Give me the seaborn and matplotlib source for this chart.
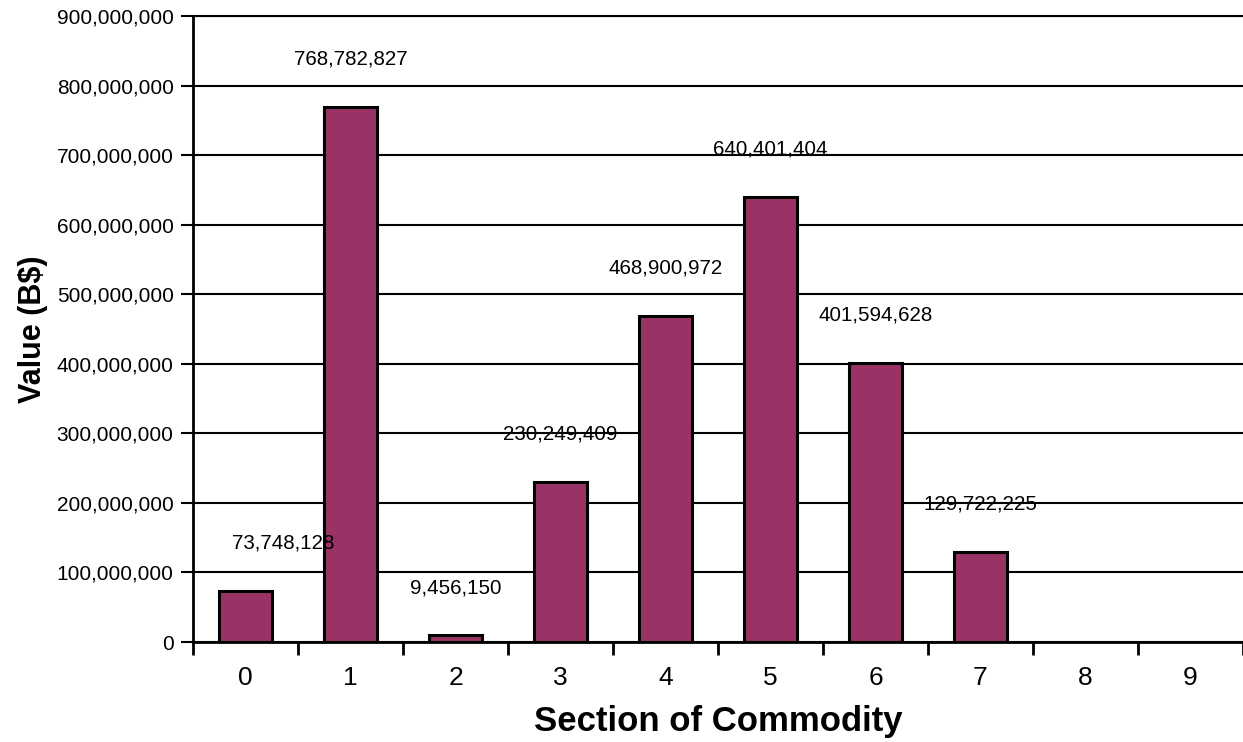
import seaborn as sns
import matplotlib.pyplot as plt
import pandas as pd
import numpy as np

# данные
sections = ['0', '1', '2', '3', '4', '5', '6', '7', '8', '9']
values = [73748128, 768782827, 9456150, 230249409, 468900972,
          640401404, 401594628, 129722225, np.nan, np.nan]

sns.set_style('white')
plt.rcParams['font.family'] = ['Liberation Sans', 'DejaVu Sans']
plt.rcParams.update({'text.color': 'black', 'axes.labelcolor': 'black',
                     'xtick.color': 'black', 'ytick.color': 'black'})

df = pd.DataFrame({'Section': sections, 'Value': values}).dropna()

fig = plt.figure(figsize=(12.43, 7.42), dpi=100)
ax = fig.add_axes([193 / 1243, 100 / 742, 1 - 193 / 1243, (642 - 16) / 742])

sns.barplot(data=df, x='Section', y='Value', order=sections, color='#993366',
            saturation=1, width=0.5, edgecolor='black', linewidth=2.2, ax=ax, zorder=3)

ax.set_xlim(-0.5, 9.5)
ax.set_ylim(0, 9e8)
ax.set_yticks(np.arange(0, 9.01e8, 1e8))
ax.yaxis.set_major_formatter(plt.FuncFormatter(lambda v, p: f'{int(v):,}'))
ax.grid(axis='y', color='black', linewidth=1.5, zorder=0)
ax.set_axisbelow(True)

# тики по границам категорий
ax.set_xticks(np.arange(-0.5, 9.6, 1), minor=True)
ax.tick_params(axis='x', which='major', bottom=True, length=0, labelsize=19, pad=17)
ax.tick_params(axis='x', which='minor', bottom=True, length=9, width=2,
               direction='out', color='black')
ax.tick_params(axis='y', left=True, length=9, width=1.5, direction='out', color='black',
               labelsize=15, pad=5)

for s in ['top', 'left', 'bottom']:
    ax.spines[s].set_color('black')
    ax.spines[s].set_linewidth(2)
ax.spines['top'].set_linewidth(1.5)
ax.spines['right'].set_visible(False)

# подписи значений
for i, v in enumerate(values):
    if np.isnan(v):
        continue
    dx = 27 if i == 0 else 0
    ax.annotate(f'{int(v):,}', (i, v), xytext=(dx, 34.5), textcoords='offset points',
                ha='center', va='center', fontsize=14.8, color='black')

ax.set_xlabel('Section of Commodity', fontsize=25, fontweight='bold', labelpad=11)
ax.set_ylabel('Value (B$)', fontsize=22, fontweight='bold', labelpad=6)

fig.savefig('out.png', dpi=100)
